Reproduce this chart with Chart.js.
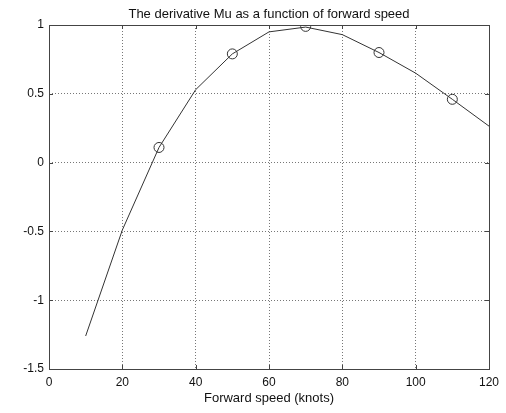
<!DOCTYPE html>
<html>
<head>
<meta charset="utf-8">
<script src="https://cdn.jsdelivr.net/npm/chart.js@4"></script>
<style>
html,body{margin:0;padding:0;background:#fff;}
#wrap{width:506px;height:413px;position:relative;}
</style>
</head>
<body>
<div id="wrap"><canvas id="c" width="506" height="413"></canvas></div>
<script>
const speeds = [10, 20, 30, 40, 50, 60, 70, 80, 90, 100, 110, 120];
const muValues = [-1.26, -0.49, 0.11, 0.53, 0.79, 0.95, 0.985, 0.93, 0.80, 0.65, 0.46, 0.265];
const markerSpeeds = [30, 50, 70, 90, 110];
const markerValues = [0.11, 0.79, 0.99, 0.80, 0.46];
const xTicks = [0, 20, 40, 60, 80, 100, 120];
const yTicks = [-1.5, -1, -0.5, 0, 0.5, 1];
const titleText = 'The derivative Mu as a function of forward speed';
const xLabel = 'Forward speed (knots)';

const FONT = "'Liberation Sans', Arial, sans-serif";

const frame = {
  id: 'frame',
  afterDatasetsDraw(chart) {
    const a = chart.chartArea, ctx = chart.ctx;
    ctx.save();
    ctx.strokeStyle = '#444';
    ctx.lineWidth = 1;
    ctx.setLineDash([]);
    ctx.strokeRect(Math.round(a.left) + 0.5, Math.round(a.top) + 0.5, Math.round(a.right - a.left), Math.round(a.bottom - a.top));
    const xs = chart.scales.x, ys = chart.scales.y;
    ctx.beginPath();
    xTicks.forEach(v => {
      const p = Math.round(xs.getPixelForValue(v)) + 0.5;
      ctx.moveTo(p, a.bottom); ctx.lineTo(p, a.bottom - 4);
      ctx.moveTo(p, a.top); ctx.lineTo(p, a.top + 4);
    });
    yTicks.forEach(v => {
      const p = Math.round(ys.getPixelForValue(v)) + 0.5;
      ctx.moveTo(a.left, p); ctx.lineTo(a.left + 4, p);
      ctx.moveTo(a.right, p); ctx.lineTo(a.right - 4, p);
    });
    ctx.stroke();
    ctx.restore();
  }
};

new Chart(document.getElementById('c'), {
  type: 'scatter',
  data: {
    datasets: [
      {
        data: speeds.map((s, i) => ({x: s, y: muValues[i]})),
        showLine: true,
        borderColor: '#333',
        borderWidth: 1,
        pointRadius: 0,
        fill: false,
        tension: 0
      },
      {
        data: markerSpeeds.map((s, i) => ({x: s, y: markerValues[i]})),
        showLine: false,
        pointStyle: 'circle',
        pointRadius: 5,
        pointBorderColor: '#333',
        pointBackgroundColor: 'rgba(0,0,0,0)',
        pointBorderWidth: 1
      }
    ]
  },
  options: {
    responsive: false,
    animation: false,
    events: [],
    layout: { padding: { left: 0, right: 17, top: 0, bottom: 0 } },
    plugins: {
      legend: { display: false },
      tooltip: { enabled: false },
      title: { display: false }
    },
    scales: {
      x: {
        type: 'linear',
        min: 0, max: 120,
        afterBuildTicks(s) { s.ticks = xTicks.map(v => ({value: v})); },
        afterFit(s) { s.height = 44; },
        ticks: { color: '#111', font: { family: FONT, size: 12 }, padding: 6, maxRotation: 0 },
        grid: { color: '#777', drawTicks: false, lineWidth: 1 },
        border: { display: false, dash: [1, 2] },
        title: {
          display: true,
          text: xLabel,
          color: '#111',
          font: { family: FONT, size: 13 },
          padding: { top: 0, bottom: 7 }
        }
      },
      xTop: {
        type: 'linear',
        position: 'top',
        min: 0, max: 120,
        afterFit(s) { s.height = 25; },
        ticks: { display: false },
        grid: { display: false, drawTicks: false },
        border: { display: false },
        title: {
          display: true,
          text: titleText,
          color: '#111',
          font: { family: FONT, size: 13 },
          padding: { top: 7, bottom: 0 }
        }
      },
      y: {
        type: 'linear',
        min: -1.5, max: 1,
        afterBuildTicks(s) { s.ticks = yTicks.map(v => ({value: v})); },
        afterFit(s) { s.width = 49; },
        ticks: {
          color: '#111', font: { family: FONT, size: 12 }, padding: 5,
          callback: v => String(v)
        },
        grid: { color: '#777', drawTicks: false, lineWidth: 1 },
        border: { display: false, dash: [1, 2] }
      }
    }
  },
  plugins: [frame]
});
</script>
</body>
</html>
